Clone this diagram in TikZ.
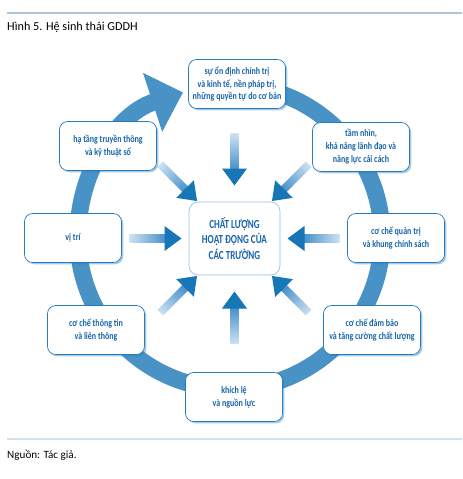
\documentclass[tikz,border=0pt]{standalone}
\usepackage{fontspec}
\setmainfont{Carlito}
\newfontfamily\condfont[FakeStretch=0.8]{Carlito}
\newfontfamily\capsfont[FakeStretch=0.74]{Carlito}
\usetikzlibrary{arrows.meta,shadows}

\definecolor{ringblue}{RGB}{72,146,198}
\definecolor{headblue}{RGB}{22,118,182}
\definecolor{shaftdark}{RGB}{70,144,202}
\definecolor{shaftlight}{RGB}{205,225,242}
\definecolor{boxline}{RGB}{40,124,190}
\definecolor{boxtext}{RGB}{22,100,170}
\definecolor{ctrline}{RGB}{150,192,226}
\definecolor{ruletop}{RGB}{170,196,219}
\definecolor{rulebot}{RGB}{210,226,240}

\begin{document}
\begin{tikzpicture}[
  x=0.03cm, y=-0.03cm,
  % factor boxes around the ring
  factor/.style={rectangle, draw=boxline, line width=0.6pt, rounded corners=7pt,
                 fill=white, minimum width=2.91cm, minimum height=1.47cm,
                 align=center, text=boxtext, inner sep=1pt,
                 font=\condfont\bfseries\fontsize{8.5}{11}\selectfont,
                 drop shadow={shadow xshift=1.5pt, shadow yshift=-1.5pt,
                              fill=boxline, opacity=0.4}},
  % quality box in the middle
  core/.style={rectangle, draw=ctrline, line width=0.6pt, rounded corners=8pt,
               fill=white, minimum width=2.73cm, minimum height=2.19cm,
               align=center, text=boxtext,
               font=\capsfont\bfseries\fontsize{10.5}{13}\selectfont},
  ring/.style={draw=ringblue, line width=0.51cm,
               -{Triangle[width=1.8cm, length=0.96cm]}},
  caption/.style={anchor=west, inner sep=0pt}
]
\useasboundingbox[fill=white] (0,0) rectangle (462,479);

% ── Rules and captions ─────────────────────────────────────────────────────
\coordinate (tl) at (7,13);   \coordinate (tr) at (462,13);
\coordinate (bl) at (7,439);  \coordinate (br) at (462,439);
\draw[ruletop, line width=0.9pt] (tl) -- (tr);
\draw[rulebot, line width=1.2pt] (bl) -- (br);
\node[caption, font=\fontsize{10.4}{12}\selectfont] (title) at (7,27) {Hình 5. Hệ sinh thái GDDH};
\node[caption, font=\fontsize{9.5}{11}\selectfont]  (src)   at (7,455) {Nguồn: Tác giả.};

% ── Ring with its arrowhead ────────────────────────────────────────────────
\draw[ring] (230,237) ++(-100:152) arc[start angle=-100, end angle=252, radius=152];

% ── Centre box and inward arrows ───────────────────────────────────────────
\node[core] (core) at (234.5,238.5) {CHẤT LƯỢNG\\HOẠT ĐỘNG CỦA\\CÁC TRƯỜNG};

\foreach \a in {0,45,...,315}{
  \begin{scope}[transform canvas={shift={(core.center)}, rotate=\a}]
    \shade[left color=shaftdark, right color=shaftlight] (69,-4) rectangle (105,4);
    \fill[headblue] (53,0) -- (70,-12.5) -- (70,12.5) -- cycle;
  \end{scope}
}

% ── Factor boxes ───────────────────────────────────────────────────────────
\node[factor] (polit)  at (237,84)  {sự ổn định chính trị\\và kinh tế, nền pháp trị,\\những quyền tự do cơ bản};
\node[factor] (infra)  at (108,146) {hạ tầng truyền thông\\và kỹ thuật số};
\node[factor] (vision) at (361,147) {tầm nhìn,\\khả năng lãnh đạo và\\năng lực cải cách};
\node[factor] (loc)    at (73,238)  {vị trí};
\node[factor] (gov)    at (396,238) {cơ chế quản trị\\và khung chính sách};
\node[factor] (info)   at (96,330)  {cơ chế thông tin\\và liên thông};
\node[factor] (qual)   at (372,330) {cơ chế đảm bảo\\và tăng cường chất lượng};
\node[factor] (fund)   at (234,397) {khích lệ\\và nguồn lực};

\end{tikzpicture}
\end{document}
